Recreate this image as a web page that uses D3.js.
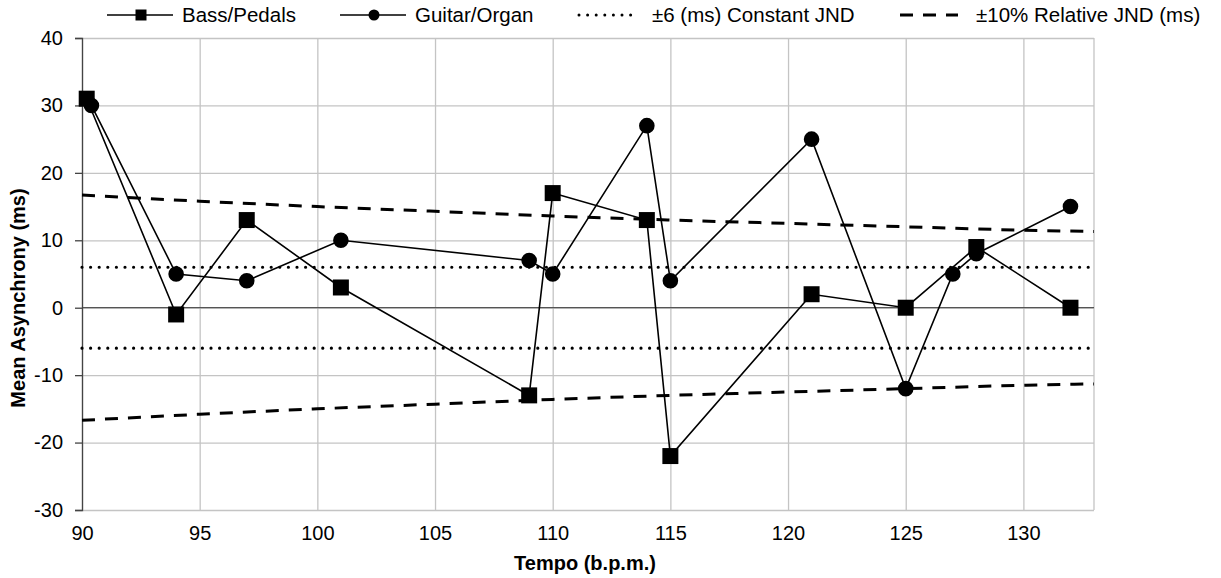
<!DOCTYPE html>
<html>
<head>
<meta charset="utf-8">
<script src="https://cdn.jsdelivr.net/npm/d3@7"></script>
<style>
  body { margin: 0; background: #fff; }
  svg text { font-family: "Liberation Sans", Arial, sans-serif; fill: #000; }
</style>
</head>
<body>
<div id="chart"></div>
<script>
var svgWidth = 1221;
var svgHeight = 578;

var margin = { top: 38, right: 127, bottom: 68, left: 82 };
var width = svgWidth - margin.left - margin.right;
var height = svgHeight - margin.top - margin.bottom;

// data
var bassTempo = [90.2, 94, 97, 101, 109, 110, 114, 115, 121, 125, 128, 132];
var bassAsync = [31, -1, 13, 3, -13, 17, 13, -22, 2, 0, 9, 0];

var guitarTempo = [90.4, 94, 97, 101, 109, 110, 114, 115, 121, 125, 127, 128, 132];
var guitarAsync = [30, 5, 4, 10, 7, 5, 27, 4, 25, -12, 5, 8, 15];

var constTempo = [90, 133];
var constUpper = [6, 6];
var constLower = [-6, -6];

var relTempo = [90, 95, 100, 105, 110, 115, 120, 125, 130, 133];
var relUpper = [16.7, 15.8, 15.0, 14.3, 13.6, 13.0, 12.5, 12.0, 11.5, 11.3];
var relLower = [-16.7, -15.8, -15.0, -14.3, -13.6, -13.0, -12.5, -12.0, -11.5, -11.3];

var xTicks = [90, 95, 100, 105, 110, 115, 120, 125, 130];
var yTicks = [-30, -20, -10, 0, 10, 20, 30, 40];

var legendNames = ["Bass/Pedals", "Guitar/Organ", "\u00b16 (ms) Constant JND", "\u00b110% Relative JND (ms)"];

var svg = d3.select("#chart")
  .append("svg")
  .attr("width", svgWidth)
  .attr("height", svgHeight);

var chartGroup = svg.append("g")
  .attr("transform", `translate(${margin.left},${margin.top})`);

var xScale = d3.scaleLinear().domain([90, 133]).range([0, width]);
var yScale = d3.scaleLinear().domain([-30, 40]).range([height, 0]);

// vertical gridlines
chartGroup.append("g")
  .call(d3.axisBottom(xScale).tickValues(xTicks).tickSize(height).tickFormat(""))
  .call(g => g.select(".domain").remove())
  .selectAll("line").attr("stroke", "#c4c4c4").attr("stroke-width", 1.3);

// horizontal gridlines
chartGroup.append("g")
  .call(d3.axisLeft(yScale).tickValues(yTicks).tickSize(-width).tickFormat(""))
  .call(g => g.select(".domain").remove())
  .selectAll("line").attr("stroke", "#c4c4c4").attr("stroke-width", 1.3);

// right border
chartGroup.append("line")
  .attr("x1", width).attr("x2", width)
  .attr("y1", 0).attr("y2", height)
  .attr("stroke", "#c4c4c4").attr("stroke-width", 1.3);

// zero line
chartGroup.append("line")
  .attr("x1", 0).attr("x2", width)
  .attr("y1", yScale(0)).attr("y2", yScale(0))
  .attr("stroke", "#555").attr("stroke-width", 1.2);

// y axis
var yAxis = chartGroup.append("g")
  .call(d3.axisLeft(yScale).tickValues(yTicks).tickSize(7).tickPadding(12).tickFormat(d => String(d)));
yAxis.select(".domain").attr("stroke", "#444").attr("stroke-width", 1.3);
yAxis.selectAll("line").attr("stroke", "#444").attr("stroke-width", 1.3);
yAxis.selectAll("text").attr("font-size", "20px").attr("font-family", "Liberation Sans, Arial, sans-serif");

// x axis labels
var xAxis = chartGroup.append("g")
  .attr("transform", `translate(0,${height})`)
  .call(d3.axisBottom(xScale).tickValues(xTicks).tickSize(0).tickPadding(16).tickFormat(d => String(d)));
xAxis.select(".domain").remove();
xAxis.selectAll("text").attr("font-size", "20px").attr("font-family", "Liberation Sans, Arial, sans-serif");

// reference lines
function refLine(xs, ys, dash, w, cap) {
  var pts = xs.map((x, i) => [x, ys[i]]);
  chartGroup.append("path")
    .datum(pts)
    .attr("fill", "none")
    .attr("stroke", "#000")
    .attr("stroke-width", w)
    .attr("stroke-dasharray", dash)
    .attr("stroke-linecap", cap)
    .attr("d", d3.line().x(d => xScale(d[0])).y(d => yScale(d[1])).curve(d3.curveMonotoneX));
}
refLine(constTempo, constUpper, "0,8.6", 3.2, "round");
refLine(constTempo, constLower, "0,8.6", 3.2, "round");
refLine(relTempo, relUpper, "13,10", 3, "butt");
refLine(relTempo, relLower, "13,10", 3, "butt");

// series
function series(xs, ys, shape) {
  var pts = xs.map((x, i) => [x, ys[i]]);
  chartGroup.append("path")
    .datum(pts)
    .attr("fill", "none")
    .attr("stroke", "#000")
    .attr("stroke-width", 1.6)
    .attr("d", d3.line().x(d => xScale(d[0])).y(d => yScale(d[1])));
  chartGroup.selectAll(null)
    .data(pts)
    .enter()
    .append("path")
    .attr("transform", d => `translate(${xScale(d[0])},${yScale(d[1])})`)
    .attr("d", shape);
}
var squareSym = d3.symbol().type(d3.symbolSquare).size(16 * 16)();
var circleSym = d3.symbol().type(d3.symbolCircle).size(Math.PI * 7.8 * 7.8)();
series(bassTempo, bassAsync, squareSym);
series(guitarTempo, guitarAsync, circleSym);

// axis titles
svg.append("text")
  .attr("x", 585)
  .attr("y", 570)
  .attr("text-anchor", "middle")
  .attr("font-size", "20px")
  .attr("font-weight", "bold")
  .text("Tempo (b.p.m.)");

svg.append("text")
  .attr("transform", `translate(25,298) rotate(-90)`)
  .attr("text-anchor", "middle")
  .attr("font-size", "20px")
  .attr("font-weight", "bold")
  .text("Mean Asynchrony (ms)");

// legend
var legendX = [107, 340, 577, 900];
var legendY = 15;
var legend = svg.append("g");
legendNames.forEach(function (name, i) {
  var x0 = legendX[i];
  var ln = legend.append("line")
    .attr("x1", x0).attr("x2", x0 + 66)
    .attr("y1", legendY).attr("y2", legendY)
    .attr("stroke", "#000");
  if (i < 2) {
    ln.attr("stroke-width", 1.6);
    legend.append("path")
      .attr("transform", `translate(${x0 + 34},${legendY})`)
      .attr("d", i === 0 ? d3.symbol().type(d3.symbolSquare).size(11 * 11)() : d3.symbol().type(d3.symbolCircle).size(Math.PI * 5.5 * 5.5)());
  } else if (i === 2) {
    ln.attr("x1", x0 + 2).attr("x2", x0 + 60).attr("stroke-width", 3).attr("stroke-dasharray", "0,8.6").attr("stroke-linecap", "round");
  } else {
    ln.attr("x2", x0 + 58).attr("stroke-width", 3).attr("stroke-dasharray", "13,10");
  }
  legend.append("text")
    .attr("x", x0 + (i === 3 ? 76 : 75))
    .attr("y", legendY)
    .attr("dy", "0.35em")
    .attr("font-size", "20.5px")
    .text(name);
});
</script>
</body>
</html>
